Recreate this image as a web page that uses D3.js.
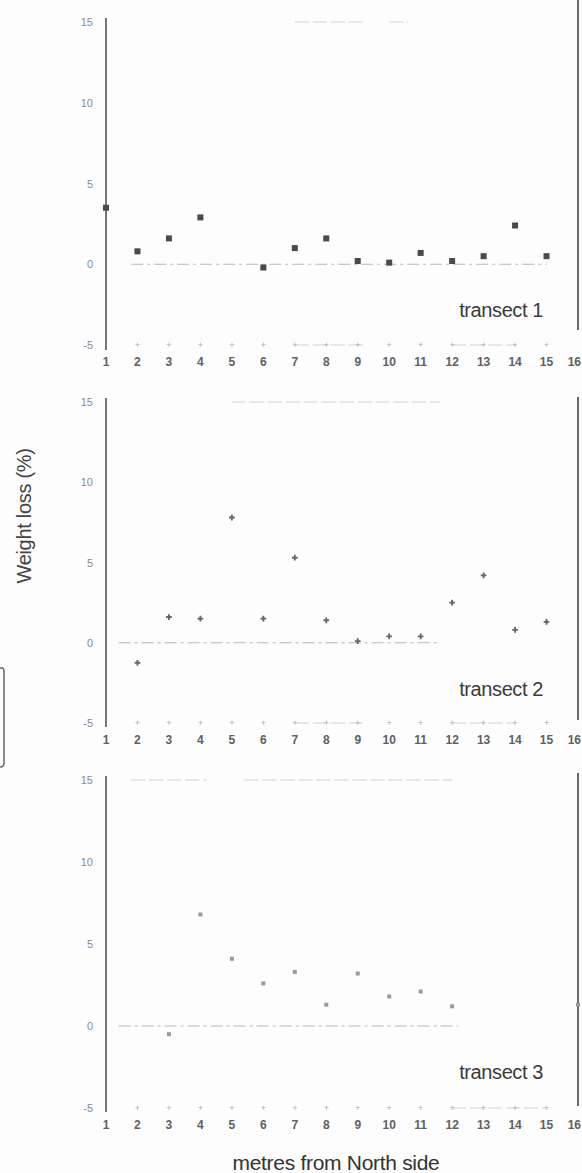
<!DOCTYPE html>
<html><head><meta charset="utf-8">
<script src="https://cdn.jsdelivr.net/npm/d3@7"></script>
<style>html,body{margin:0;padding:0;background:#fdfdfd;}svg{display:block;}</style>
</head><body>
<script>
// ---- data ----
const xTicks = [1,2,3,4,5,6,7,8,9,10,11,12,13,14,15,16];
const yTicks = [15,10,5,0,-5];
const yTickLabels = ["15","10","5","0","-5"];
const transectNames = ["transect 1","transect 2","transect 3"];
const t1x = [1,2,3,4,6,7,8,9,10,11,12,13,14,15];
const t1y = [3.5,0.8,1.6,2.9,-0.2,1.0,1.6,0.2,0.1,0.7,0.2,0.5,2.4,0.5];
const t2x = [2,3,4,5,6,7,8,9,10,11,12,13,14,15];
const t2y = [-1.25,1.6,1.5,7.8,1.5,5.3,1.4,0.1,0.4,0.4,2.5,4.2,0.8,1.3];
const t3x = [3,4,5,6,7,8,9,10,11,12,16];
const t3y = [-0.5,6.8,4.1,2.6,3.3,1.3,3.2,1.8,2.1,1.2,1.3];
// faint reference segments (metres from, metres to, value)
const t1Ref = [[1.8,15,0],[7,9.2,15],[10,10.6,15],[7,9.2,-5],[12,14,-5]];
const t2Ref = [[1.4,11.6,0],[5,11.6,15],[7,9.2,-5],[12,14,-5]];
const t3Ref = [[1.4,12.2,0],[1.8,4.2,15],[5.4,12,15],[12,15,-5]];
const xLabel = "metres from North side";
const yLabel = "Weight loss (%)";

const W = 582, H = 1173;
const FONT = "Liberation Sans, Arial, sans-serif";
const svg = d3.select("body").append("svg").attr("width", W).attr("height", H);

const x = d3.scaleLinear().domain([1,16]).range([106,578]);
const panels = [
  {top:22, bottom:345, xs:t1x, ys:t1y, ref:t1Ref, kind:"square", col:"#4a4a4a", axTop:18, axBot:350, rTop:0, rBot:330},
  {top:402, bottom:723, xs:t2x, ys:t2y, ref:t2Ref, kind:"plus", col:"#666", axTop:398, axBot:727, rTop:397, rBot:720},
  {top:780, bottom:1108, xs:t3x, ys:t3y, ref:t3Ref, kind:"circle", col:"#999", axTop:776, axBot:1112, rTop:773, rBot:1106}
];

panels.forEach((p,i) => {
  const y = d3.scaleLinear().domain([-5,15]).range([p.bottom,p.top]);
  const g = svg.append("g");
  // faint reference segments
  g.selectAll("line.ref").data(p.ref).join("line").attr("class","ref")
    .attr("x1", d=>x(d[0])).attr("x2", d=>x(d[1]))
    .attr("y1", d=>y(d[2])).attr("y2", d=>y(d[2]))
    .attr("stroke", d=>d[2]===0 ? "#b8b8b8" : "#d2d2d2").attr("stroke-width",1.2)
    .attr("stroke-dasharray", d=>d[2]===0 ? "12,4,3,4" : "14,4");
  // left y axis
  const ya = d3.axisLeft(y).tickValues(yTicks).tickFormat((d,k)=>yTickLabels[k]).tickSize(0).tickPadding(13);
  const yg = g.append("g").attr("transform",`translate(${x(1)},0)`).call(ya);
  yg.select(".domain").remove();
  yg.selectAll("text").attr("fill","#8a8a8a").style("font-family",FONT).style("font-size","11px");
  g.append("line").attr("x1",x(1)).attr("x2",x(1)).attr("y1",p.axTop).attr("y2",p.axBot)
    .attr("stroke","#555").attr("stroke-width",1.6);
  // right line
  g.append("line").attr("x1",x(16)).attr("x2",x(16)).attr("y1",p.rTop).attr("y2",p.rBot)
    .attr("stroke","#444").attr("stroke-width",1.6);
  // bottom tick marks at -5 row
  g.selectAll("text.tk").data(xTicks.slice(1,15)).join("text").attr("class","tk")
    .attr("x", d=>x(d)).attr("y", y(-5)+3).attr("text-anchor","middle")
    .attr("fill","#aaa").style("font-family",FONT).style("font-size","9px").text("+");
  // x tick labels (last one kept inside the page edge)
  const lastTick = xTicks[xTicks.length-1];
  g.selectAll("text.xl").data(xTicks).join("text").attr("class","xl")
    .attr("x", d=> d===lastTick ? W-1 : x(d)).attr("y", y(-5)+21)
    .attr("text-anchor", d=> d===lastTick ? "end" : "middle")
    .attr("fill","#606060").style("font-family",FONT).style("font-size","12px").style("font-weight","bold")
    .text(d=>d);
  // points
  const pts = p.xs.map((v,k)=>({m:v, w:p.ys[k]}));
  if (p.kind==="square") {
    g.selectAll("rect.pt").data(pts).join("rect").attr("class","pt")
      .attr("x", d=>x(d.m)-3).attr("y", d=>y(d.w)-3).attr("width",6).attr("height",6)
      .attr("fill",p.col);
  } else if (p.kind==="plus") {
    g.selectAll("path.pt").data(pts).join("path").attr("class","pt")
      .attr("d", d3.symbol(d3.symbolCross, 18))
      .attr("transform", d=>`translate(${x(d.m)},${y(d.w)})`).attr("fill",p.col);
  } else {
    g.selectAll("path.pt").data(pts).join("path").attr("class","pt")
      .attr("d", d3.symbol(d3.symbolSquare, 16))
      .attr("transform", d=>`translate(${x(d.m)},${y(d.w)})`).attr("fill",p.col);
  }
  // transect label
  g.append("text").attr("x", 543).attr("y", y(0)+53).attr("text-anchor","end")
    .attr("fill","#3a3a3a").style("font-family",FONT).style("font-size","20px")
    .style("letter-spacing","-0.4px").text(transectNames[i]);
});

// y axis title
svg.append("text").attr("transform","translate(31,516) rotate(-90)").attr("text-anchor","middle")
  .attr("fill","#444").style("font-family",FONT).style("font-size","20px").style("letter-spacing","-0.3px").text(yLabel);
// x axis title
svg.append("text").attr("x",336).attr("y",1170).attr("text-anchor","middle")
  .attr("fill","#333").style("font-family",FONT).style("font-size","21px")
  .style("letter-spacing","-0.3px").text(xLabel);
// scan-edge bracket on the left
svg.append("path").attr("d","M0,668 L2,668 Q4,668 4,672 L4,763 Q4,767 0,767")
  .attr("fill","none").attr("stroke","#666").attr("stroke-width",1.5);
</script>
</body></html>
